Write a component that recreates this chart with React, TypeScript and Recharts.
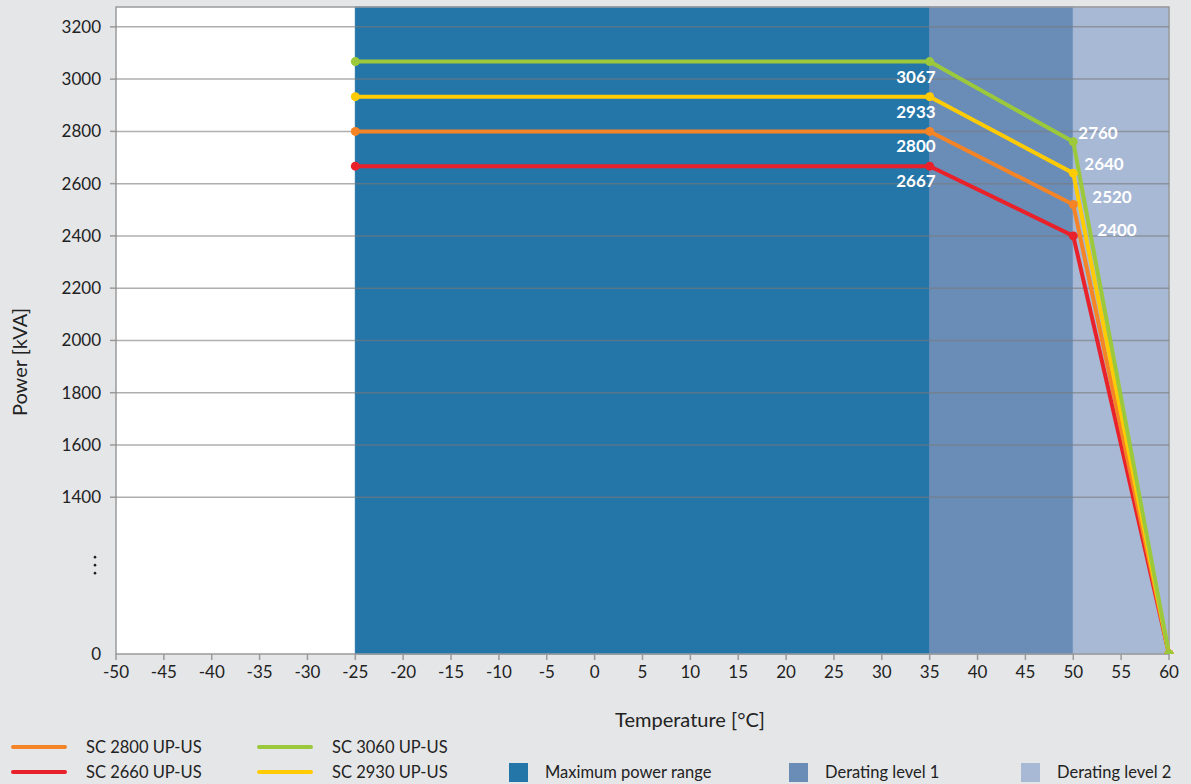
import React from 'react';
import {
  LineChart,
  Line,
  XAxis,
  YAxis,
  ReferenceArea,
  ReferenceLine,
  LabelList,
} from 'recharts';

// temperature breakpoints (°C)
const temperatures = [-25, 35, 50, 60];

// power in kVA per device
const sc3060 = [3067, 3067, 2760, 0];
const sc2930 = [2933, 2933, 2640, 0];
const sc2800 = [2800, 2800, 2520, 0];
const sc2660 = [2667, 2667, 2400, 0];

const xTicks = [-50, -45, -40, -35, -30, -25, -20, -15, -10, -5, 0, 5, 10, 15, 20, 25, 30, 35, 40, 45, 50, 55, 60];
const yTicks = [1400, 1600, 1800, 2000, 2200, 2400, 2600, 2800, 3000, 3200];

// shaded temperature ranges
const zoneNames = ['Maximum power range', 'Derating level 1', 'Derating level 2'];
const zoneFrom = [-25, 35, 50];
const zoneTo = [35, 50, 60];
const zoneColors = ['#2475a8', '#6a8db7', '#a8b9d6'];

// the y axis is broken: 0 is drawn where 800 would sit
const AXIS_ZERO = 800;
const AXIS_TOP = 3276;
const ELLIPSIS_AT = 1140;

const series = [
  { key: 'sc2660', name: 'SC 2660 UP-US', values: sc2660, color: '#e8212a', dx: 24, dy: -6 },
  { key: 'sc2800', name: 'SC 2800 UP-US', values: sc2800, color: '#f58426', dx: 19, dy: -7 },
  { key: 'sc2930', name: 'SC 2930 UP-US', values: sc2930, color: '#ffcb05', dx: 11, dy: -9 },
  { key: 'sc3060', name: 'SC 3060 UP-US', values: sc3060, color: '#9cc93b', dx: 5, dy: -9 },
];

const data = temperatures.map((t, i) => {
  const row: any = { t };
  series.forEach((s) => {
    row[s.key] = s.values[i] === 0 ? AXIS_ZERO : s.values[i];
  });
  return row;
});

const YTick = ({ x, y, payload }: any) => {
  const v = payload.value;
  if (v === ELLIPSIS_AT) {
    return (
      <g fill="#222">
        <circle cx={x - 6} cy={y - 8} r={1.3} />
        <circle cx={x - 6} cy={y} r={1.3} />
        <circle cx={x - 6} cy={y + 8} r={1.3} />
      </g>
    );
  }
  return (
    <g>
      {v !== AXIS_ZERO && (
        <line x1={x + 9} x2={x + 15} y1={y} y2={y} stroke="#9a9a9a" strokeWidth={1.5} />
      )}
      <text x={x} y={y} dy="0.35em" textAnchor="end" fill="#222" fontSize={17}>
        {v === AXIS_ZERO ? 0 : v}
      </text>
    </g>
  );
};

const makeLabel = (values: number[], dx: number, dy: number) => (props: any) => {
  const { x, y, index } = props;
  if (index === 1) {
    return (
      <text x={x + 6} y={y + 15} dy="0.35em" textAnchor="end" fill="#fff" fontSize={17} fontWeight="bold">
        {values[index]}
      </text>
    );
  }
  if (index === 2) {
    return (
      <text x={x + dx} y={y + dy} dy="0.35em" textAnchor="start" fill="#fff" fontSize={17} fontWeight="bold">
        {values[index]}
      </text>
    );
  }
  return null;
};

const legendLines = [
  { name: 'SC 2800 UP-US', color: '#f58426', left: 11, top: 747 },
  { name: 'SC 2660 UP-US', color: '#e8212a', left: 11, top: 772 },
  { name: 'SC 3060 UP-US', color: '#9cc93b', left: 257, top: 747 },
  { name: 'SC 2930 UP-US', color: '#ffcb05', left: 257, top: 772 },
];
const legendBoxLeft = [509, 789, 1021];

export default function App() {
  return (
    <div
      style={{
        position: 'relative',
        width: 1191,
        height: 784,
        background: '#e5e6e8',
        fontFamily: 'Lato, sans-serif',
        color: '#222',
        overflow: 'hidden',
      }}
    >
      <style>{'body{margin:0}'}</style>
      <LineChart width={1191} height={784} data={data} margin={{ top: 7, right: 22, bottom: 84, left: 0 }}>
        <XAxis
          dataKey="t"
          type="number"
          domain={[-50, 60]}
          ticks={xTicks}
          interval={0}
          axisLine={false}
          tickSize={6}
          tickMargin={6}
          tickLine={{ stroke: '#9a9a9a', strokeWidth: 1.5 }}
          tick={{ fill: '#222', fontSize: 17 }}
          height={46}
          label={(p: any) => (
            <text x={690} y={720} dy="0.35em" textAnchor="middle" fill="#222" fontSize={20}>
              Temperature [°C]
            </text>
          )}
        />
        <YAxis
          type="number"
          domain={[AXIS_ZERO, AXIS_TOP]}
          allowDataOverflow
          ticks={[AXIS_ZERO, ELLIPSIS_AT, ...yTicks]}
          interval={0}
          width={116}
          axisLine={false}
          tickLine={false}
          tickSize={6}
          tickMargin={9}
          tick={<YTick />}
          label={(p: any) => (
            <text x={20} y={362} dy="0.35em" textAnchor="middle" fill="#222" fontSize={20} transform="rotate(-90 20 362)">
              Power [kVA]
            </text>
          )}
        />
        <ReferenceArea x1={-50} x2={60} y1={AXIS_ZERO} y2={AXIS_TOP} fill="#ffffff" fillOpacity={1} stroke="none" />
        {zoneNames.map((n, i) => (
          <ReferenceArea
            key={n}
            x1={zoneFrom[i]}
            x2={zoneTo[i]}
            fill={zoneColors[i]}
            fillOpacity={1}
            stroke={zoneColors[i]}
            strokeWidth={1}
          />
        ))}
        {yTicks.map((v) => (
          <ReferenceLine key={v} y={v} stroke="#7a7a7a" strokeOpacity={0.6} strokeWidth={1.5} />
        ))}
        <ReferenceArea
          x1={-50}
          x2={60}
          y1={AXIS_ZERO}
          y2={AXIS_TOP}
          fill="none"
          stroke="#9a9a9a"
          strokeWidth={1.5}
        />
        {series.map((s) => (
          <Line
            key={s.key}
            dataKey={s.key}
            name={s.name}
            type="linear"
            stroke={s.color}
            strokeWidth={4}
            dot={{ r: 4.5, fill: s.color, stroke: 'none' }}
            activeDot={false}
            isAnimationActive={false}
          >
            <LabelList dataKey={s.key} content={makeLabel(s.values, s.dx, s.dy)} />
          </Line>
        ))}
      </LineChart>

      {legendLines.map((l) => (
        <div key={l.name}>
          <div
            style={{
              position: 'absolute',
              left: l.left,
              top: l.top - 2,
              width: 56,
              height: 4,
              borderRadius: 2,
              background: l.color,
            }}
          />
          <div style={{ position: 'absolute', left: l.left + 75, top: l.top - 11, fontSize: 16.5, lineHeight: '22px' }}>
            {l.name}
          </div>
        </div>
      ))}
      {zoneNames.map((n, i) => (
        <div key={n}>
          <div
            style={{
              position: 'absolute',
              left: legendBoxLeft[i],
              top: 763,
              width: 19,
              height: 19,
              background: zoneColors[i],
            }}
          />
          <div style={{ position: 'absolute', left: legendBoxLeft[i] + 36, top: 761, fontSize: 16.5, lineHeight: '22px' }}>
            {n}
          </div>
        </div>
      ))}
    </div>
  );
}
